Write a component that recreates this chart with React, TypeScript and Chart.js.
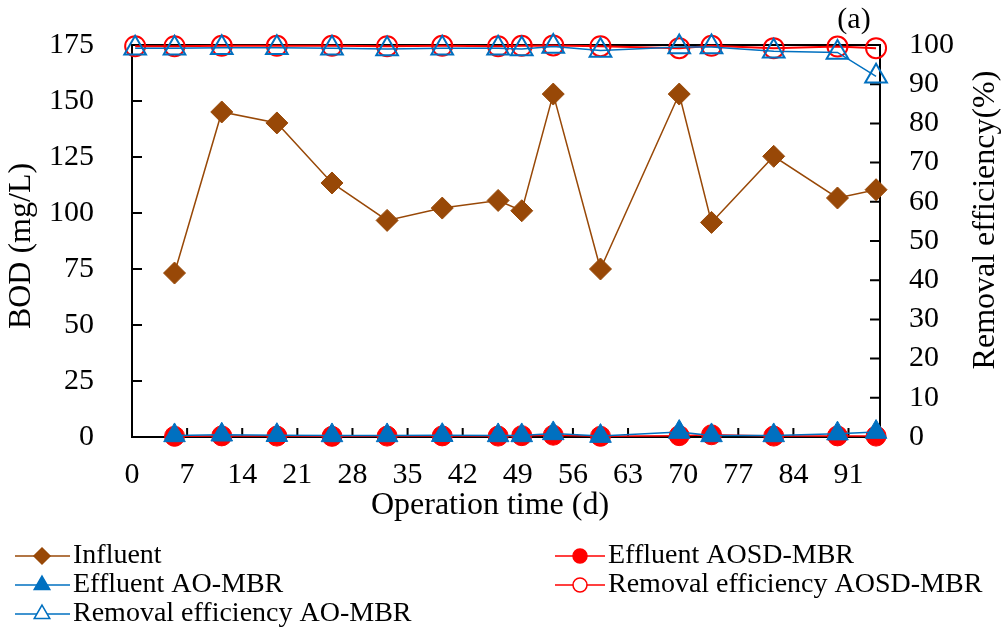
import { useEffect, useRef } from 'react';
import { Chart, registerables } from 'chart.js';

Chart.register(...registerables);

const FONT = "'Liberation Serif', 'Times New Roman', serif";

// ---- data ----
const sampleDays = [5.4, 11.4, 18.4, 25.4, 32.4, 39.4, 46.5, 49.5, 53.5, 59.5, 69.5, 73.6, 81.5, 89.6, 94.5];
const removalDays = [0.4, 5.4, 11.4, 18.4, 25.4, 32.4, 39.4, 46.5, 49.5, 53.5, 59.5, 69.5, 73.6, 81.5, 89.6, 94.5];
const influent = [73.2, 145.1, 140.2, 113.4, 96.7, 102.2, 105.6, 101.0, 153.1, 75.0, 153.1, 95.8, 125.3, 106.7, 110.4];
const effluentAOSD = [0.3, 0.5, 0.4, 0.3, 0.4, 0.5, 0.4, 0.6, 0.8, 0.3, 0.6, 1.0, 0.4, 0.5, 0.4];
const effluentAO = [0.7, 1.0, 0.8, 0.7, 0.7, 0.8, 0.7, 0.7, 1.6, 0.4, 2.2, 0.7, 0.7, 1.5, 2.2];
const removalAOSD = [99.7, 99.7, 99.8, 99.8, 99.8, 99.7, 99.8, 99.7, 99.8, 99.9, 99.7, 99.2, 99.8, 99.2, 99.6, 99.2];
const removalAO = [99.2, 99.2, 99.3, 99.3, 99.2, 99.0, 99.2, 99.2, 99.0, 99.6, 98.6, 99.5, 99.5, 98.4, 98.1, 92.0];

const xTicks = [0, 7, 14, 21, 28, 35, 42, 49, 56, 63, 70, 77, 84, 91];
const bodTicks = [0, 25, 50, 75, 100, 125, 150, 175];
const effTicks = [0, 10, 20, 30, 40, 50, 60, 70, 80, 90, 100];

const seriesLabels = [
  'Influent',
  'Effluent AOSD-MBR',
  'Effluent AO-MBR',
  'Removal efficiency AOSD-MBR',
  'Removal efficiency AO-MBR',
];

const xTitle = 'Operation time (d)';
const yTitle = 'BOD (mg/L)';
const y2Title = 'Removal efficiency(%)';
const panelLabel = '(a)';

const BROWN = '#984807';
const RED = '#FF0000';
const BLUE = '#0070C0';

function pts(xs: number[], ys: number[]) {
  return ys.map((y, i) => ({ x: xs[i], y }));
}

function drawMarker(ctx: CanvasRenderingContext2D, style: string, x: number, y: number, r: number, fill: string | null, stroke: string, lw: number) {
  ctx.beginPath();
  if (style === 'circle') {
    ctx.arc(x, y, r, 0, Math.PI * 2);
  } else if (style === 'triangle') {
    const h = r * Math.sqrt(3) / 2;
    ctx.moveTo(x, y - r);
    ctx.lineTo(x + h, y + r / 2);
    ctx.lineTo(x - h, y + r / 2);
    ctx.closePath();
  } else {
    ctx.moveTo(x, y - r);
    ctx.lineTo(x + r, y);
    ctx.lineTo(x, y + r);
    ctx.lineTo(x - r, y);
    ctx.closePath();
  }
  if (fill) {
    ctx.fillStyle = fill;
    ctx.fill();
  }
  ctx.strokeStyle = stroke;
  ctx.lineWidth = lw;
  ctx.stroke();
}

const legendLayout = [
  { ds: 0, col: 0, row: 0 },
  { ds: 1, col: 1, row: 0 },
  { ds: 2, col: 0, row: 1 },
  { ds: 3, col: 1, row: 1 },
  { ds: 4, col: 0, row: 2 },
];
const legendMarkers = [
  { style: 'diamond', r: 8, fill: BROWN, stroke: BROWN, color: BROWN },
  { style: 'circle', r: 7, fill: RED, stroke: RED, color: RED },
  { style: 'triangle', r: 9, fill: BLUE, stroke: BLUE, color: BLUE },
  { style: 'circle', r: 7, fill: '#ffffff', stroke: RED, color: RED },
  { style: 'triangle', r: 9, fill: '#ffffff', stroke: BLUE, color: BLUE },
];

const decorPlugin = {
  id: 'decor',
  beforeDatasetsDraw(chart: any) {
    const { ctx, chartArea } = chart;
    const { left, right, top, bottom } = chartArea;
    ctx.save();
    ctx.strokeStyle = '#000';
    ctx.lineWidth = 2;
    ctx.strokeRect(left, top, right - left, bottom - top);
    ctx.beginPath();
    const xs = chart.scales.x;
    xTicks.forEach((v) => {
      const px = xs.getPixelForValue(v);
      ctx.moveTo(px, bottom);
      ctx.lineTo(px, bottom - 9);
    });
    const yl = chart.scales.y;
    bodTicks.forEach((v) => {
      const py = yl.getPixelForValue(v);
      ctx.moveTo(left, py);
      ctx.lineTo(left + 10, py);
    });
    const yr = chart.scales.y2;
    effTicks.forEach((v) => {
      const py = yr.getPixelForValue(v);
      ctx.moveTo(right, py);
      ctx.lineTo(right - 10, py);
    });
    ctx.stroke();
    ctx.restore();
  },
  afterDraw(chart: any) {
    const { ctx } = chart;
    ctx.save();
    ctx.fillStyle = '#000';
    ctx.textBaseline = 'middle';
    ctx.textAlign = 'center';
    ctx.font = `32px ${FONT}`;
    ctx.fillText(xTitle, 490, 506);

    ctx.save();
    ctx.translate(22, 246);
    ctx.rotate(-Math.PI / 2);
    ctx.fillText(yTitle, 0, 0);
    ctx.restore();

    ctx.save();
    ctx.translate(986, 220);
    ctx.rotate(-Math.PI / 2);
    ctx.fillText(y2Title, 0, 0);
    ctx.restore();

    ctx.font = `30px ${FONT}`;
    ctx.fillText(panelLabel, 854, 20);

    // legend
    const cols = [
      { l0: 15, l1: 70, mx: 42, tx: 73 },
      { l0: 555, l1: 605, mx: 580, tx: 608 },
    ];
    const rows = [556, 585, 614];
    ctx.font = `28px ${FONT}`;
    ctx.textAlign = 'left';
    legendLayout.forEach((item) => {
      const c = cols[item.col];
      const y = rows[item.row];
      const m = legendMarkers[item.ds];
      ctx.beginPath();
      ctx.strokeStyle = m.color;
      ctx.lineWidth = 1.5;
      ctx.moveTo(c.l0, y);
      ctx.lineTo(c.l1, y);
      ctx.stroke();
      drawMarker(ctx, m.style, c.mx, y, m.r, m.fill, m.stroke, 1.5);
      ctx.fillStyle = '#000';
      ctx.fillText(seriesLabels[item.ds], c.tx, y);
    });
    ctx.restore();
  },
};

export default function App() {
  const ref = useRef<HTMLCanvasElement>(null);

  useEffect(() => {
    const canvas = ref.current;
    if (!canvas) return;
    const tickFont = { family: FONT, size: 30 };
    const noGrid = { display: false, drawTicks: false, drawOnChartArea: false };
    const chart = new Chart(canvas, {
      type: 'line',
      data: {
        datasets: [
          {
            label: seriesLabels[0],
            data: pts(sampleDays, influent),
            yAxisID: 'y',
            borderColor: BROWN,
            backgroundColor: BROWN,
            borderWidth: 1.5,
            pointStyle: 'rectRot',
            pointRadius: 11,
            pointBorderWidth: 1,
            pointBackgroundColor: BROWN,
            pointBorderColor: BROWN,
            order: 5,
            clip: false,
          },
          {
            label: seriesLabels[1],
            data: pts(sampleDays, effluentAOSD),
            yAxisID: 'y',
            borderColor: RED,
            backgroundColor: RED,
            borderWidth: 1.5,
            pointStyle: 'circle',
            pointRadius: 10,
            pointBorderWidth: 1,
            pointBackgroundColor: RED,
            pointBorderColor: RED,
            order: 4,
            clip: false,
          },
          {
            label: seriesLabels[2],
            data: pts(sampleDays, effluentAO),
            yAxisID: 'y',
            borderColor: BLUE,
            backgroundColor: BLUE,
            borderWidth: 1.5,
            pointStyle: 'triangle',
            pointRadius: 12.5,
            pointBorderWidth: 1,
            pointBackgroundColor: BLUE,
            pointBorderColor: BLUE,
            order: 3,
            clip: false,
          },
          {
            label: seriesLabels[3],
            data: pts(removalDays, removalAOSD),
            yAxisID: 'y2',
            borderColor: RED,
            backgroundColor: 'rgba(0,0,0,0)',
            borderWidth: 2,
            pointStyle: 'circle',
            pointRadius: 10,
            pointBorderWidth: 2,
            pointBackgroundColor: 'rgba(0,0,0,0)',
            pointBorderColor: RED,
            order: 2,
            clip: false,
          },
          {
            label: seriesLabels[4],
            data: pts(removalDays, removalAO),
            yAxisID: 'y2',
            borderColor: BLUE,
            backgroundColor: 'rgba(0,0,0,0)',
            borderWidth: 1.5,
            pointStyle: 'triangle',
            pointRadius: 12.5,
            pointBorderWidth: 2,
            pointBackgroundColor: 'rgba(0,0,0,0)',
            pointBorderColor: BLUE,
            order: 1,
            clip: false,
          },
        ],
      },
      options: {
        responsive: false,
        animation: false,
        devicePixelRatio: 1,
        layout: { padding: { top: 45, bottom: 121, left: 0, right: 0 } },
        plugins: {
          legend: { display: false },
          tooltip: { enabled: false },
        },
        scales: {
          x: {
            type: 'linear',
            position: 'bottom',
            min: 0,
            max: 95,
            afterBuildTicks: (scale: any) => {
              scale.ticks = xTicks.map((v) => ({ value: v }));
            },
            afterFit: (scale: any) => {
              scale.height = 80;
              scale.paddingLeft = 0;
              scale.paddingRight = 0;
            },
            grid: noGrid,
            border: { display: false },
            ticks: { font: tickFont, color: '#000', padding: 20, maxRotation: 0, autoSkip: false },
          },
          y: {
            type: 'linear',
            position: 'left',
            min: 0,
            max: 175,
            afterBuildTicks: (scale: any) => {
              scale.ticks = bodTicks.map((v) => ({ value: v }));
            },
            afterFit: (scale: any) => {
              scale.width = 132;
              scale.paddingTop = 0;
              scale.paddingBottom = 0;
            },
            grid: noGrid,
            border: { display: false },
            ticks: { font: tickFont, color: '#000', padding: 38, autoSkip: false },
          },
          y2: {
            type: 'linear',
            position: 'right',
            min: 0,
            max: 100,
            afterBuildTicks: (scale: any) => {
              scale.ticks = effTicks.map((v) => ({ value: v }));
            },
            afterFit: (scale: any) => {
              scale.width = 128;
              scale.paddingTop = 0;
              scale.paddingBottom = 0;
            },
            grid: noGrid,
            border: { display: false },
            ticks: { font: tickFont, color: '#000', padding: 29, autoSkip: false },
          },
        },
      },
      plugins: [decorPlugin],
    } as any);
    return () => chart.destroy();
  }, []);

  return (
    <div style={{ position: 'absolute', left: 0, top: 0, width: 1008, height: 638, background: '#ffffff' }}>
      <canvas ref={ref} width={1008} height={638} style={{ display: 'block', width: 1008, height: 638 }} />
    </div>
  );
}
